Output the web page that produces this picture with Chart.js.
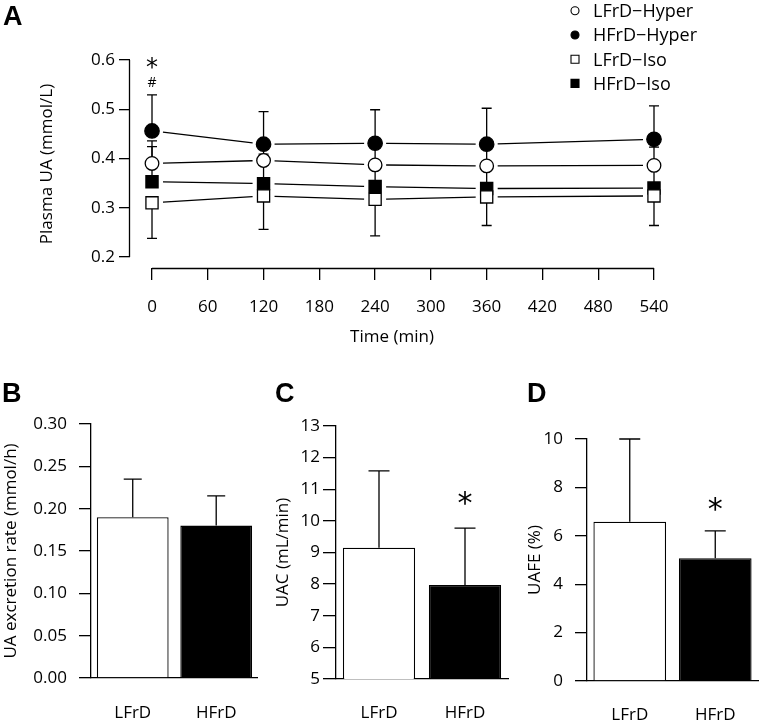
<!DOCTYPE html>
<html><head><meta charset="utf-8">
<script src="https://cdn.jsdelivr.net/npm/chart.js@4.4.1/dist/chart.umd.min.js"></script>
<style>
html,body{margin:0;padding:0;background:#fff;}
#wrap{position:relative;width:761px;height:725px;overflow:hidden;background:#fff;}
canvas{position:absolute;}
</style></head><body>
<div id="wrap">
<canvas id="cA" width="761" height="360" style="left:0px;top:0px"></canvas>
<canvas id="cB" width="262" height="380" style="left:0px;top:345px"></canvas>
<canvas id="cC" width="248" height="380" style="left:262px;top:345px"></canvas>
<canvas id="cD" width="251" height="380" style="left:510px;top:345px"></canvas>
</div>
<script>
// ---------- Panel A data ----------
const timePoints = [0, 120, 240, 360, 540];
const timeTicks = [0, 60, 120, 180, 240, 300, 360, 420, 480, 540];
const plasmaTicks = [0.2, 0.3, 0.4, 0.5, 0.6];
const seriesNames = ['LFrD\u2212Hyper', 'HFrD\u2212Hyper', 'LFrD\u2212Iso', 'HFrD\u2212Iso'];
const lfrdHyper = [0.390, 0.396, 0.387, 0.385, 0.386];
const hfrdHyper = [0.456, 0.429, 0.431, 0.429, 0.439];
const lfrdIso   = [0.310, 0.324, 0.317, 0.322, 0.324];
const hfrdIso   = [0.353, 0.349, 0.343, 0.339, 0.340];
// visible error bars (upper / lower extents)
const lfrdHyperUp = [0.046, 0.040, 0.045, 0.045, 0.037];
const hfrdHyperUp = [0.073, 0.066, 0.068, 0.073, 0.068];
const hfrdIsoUp   = [0.071, 0.060, 0.050, 0.050, 0.050];
const lfrdIsoDown = [0.072, 0.068, 0.074, 0.058, 0.060];

// ---------- Panels B-D data ----------
const groups = ['LFrD', 'HFrD'];
const excretionRate = [0.19, 0.18];
const excretionSD = [0.045, 0.035];
const excretionTicks = [0, 0.05, 0.10, 0.15, 0.20, 0.25, 0.30];
const uac = [9.15, 7.97];
const uacSD = [2.43, 1.80];
const uacTicks = [5, 6, 7, 8, 9, 10, 11, 12, 13];
const uafe = [6.58, 5.07];
const uafeSD = [3.42, 1.13];
const uafeTicks = [0, 2, 4, 6, 8, 10];

// ---------- common ----------
const FAM = "'Open Sans', sans-serif";
const f17 = {family: FAM, size: 17};
const LW = 1.3;
Chart.defaults.color = '#000';
Chart.defaults.font.family = FAM;

function valOf(d) { return (d !== null && typeof d === 'object') ? d.y : d; }

const errorBars = {
  id: 'errorBars',
  _draw(chart, opts) {
    const ctx = chart.ctx, ys = chart.scales.y;
    ctx.save();
    ctx.strokeStyle = '#000'; ctx.lineWidth = opts.lineWidth || LW;
    chart.data.datasets.forEach((ds, i) => {
      const meta = chart.getDatasetMeta(i);
      ['up', 'down'].forEach(dir => {
        const arr = opts[dir] && opts[dir][i];
        if (!arr) return;
        meta.data.forEach((el, k) => {
          if (arr[k] == null) return;
          const v = valOf(ds.data[k]);
          const end = ys.getPixelForValue(dir === 'up' ? v + arr[k] : v - arr[k]);
          const x = el.x, y0 = ys.getPixelForValue(v);
          ctx.beginPath();
          ctx.moveTo(x, y0); ctx.lineTo(x, end);
          ctx.moveTo(x - opts.cap / 2, end); ctx.lineTo(x + opts.cap / 2, end);
          ctx.stroke();
        });
      });
    });
    ctx.restore();
  },
  beforeDatasetsDraw(chart, args, opts) { if (opts && opts.when === 'before') this._draw(chart, opts); },
  afterDatasetsDraw(chart, args, opts) { if (opts && opts.when === 'after') this._draw(chart, opts); }
};

const gapLines = {
  id: 'gapLines',
  beforeDatasetsDraw(chart, args, opts) {
    if (!opts || !opts.gap) return;
    const ctx = chart.ctx;
    ctx.save(); ctx.strokeStyle = '#000'; ctx.lineWidth = LW;
    chart.data.datasets.forEach((ds, i) => {
      const pts = chart.getDatasetMeta(i).data;
      for (let k = 0; k < pts.length - 1; k++) {
        const a = pts[k], b = pts[k + 1];
        const dx = b.x - a.x, dy = b.y - a.y, L = Math.hypot(dx, dy);
        const ux = dx / L, uy = dy / L;
        ctx.beginPath();
        ctx.moveTo(a.x + ux * opts.gap, a.y + uy * opts.gap);
        ctx.lineTo(b.x - ux * opts.gap, b.y - uy * opts.gap);
        ctx.stroke();
      }
    });
    ctx.restore();
  }
};

const rangeFrame = {
  id: 'rangeFrame',
  afterDraw(chart, args, opts) {
    if (!opts || !opts.enabled) return;
    const {ctx, chartArea} = chart, xs = chart.scales.x, ys = chart.scales.y;
    ctx.save(); ctx.strokeStyle = '#000'; ctx.lineWidth = LW;
    ctx.beginPath();
    const xl = Math.round(chartArea.left) - 0.5;
    ctx.moveTo(xl, ys.getPixelForValue(opts.yFrom)); ctx.lineTo(xl, ys.getPixelForValue(opts.yTo));
    const yb = Math.round(chartArea.bottom) + 0.5;
    ctx.moveTo(xs.getPixelForValue(opts.xFrom), yb); ctx.lineTo(xs.getPixelForValue(opts.xTo), yb);
    ctx.stroke(); ctx.restore();
  }
};

const marks = {
  id: 'marks',
  afterDraw(chart, args, opts) {
    if (!opts || !opts.items) return;
    const ctx = chart.ctx, ys = chart.scales.y;
    ctx.save(); ctx.fillStyle = '#000'; ctx.textAlign = 'center'; ctx.textBaseline = 'alphabetic';
    opts.items.forEach(m => {
      const meta = chart.getDatasetMeta(m.ds);
      const el = meta.data[m.idx];
      const v = valOf(chart.data.datasets[m.ds].data[m.idx]);
      const top = ys.getPixelForValue(v + m.err[m.idx]);
      ctx.font = m.font;
      ctx.fillText(m.text, el.x, top - m.dy + m.base);
    });
    ctx.restore();
  }
};

const panelLabel = {
  id: 'panelLabel',
  afterDraw(chart, args, opts) {
    if (!opts || !opts.text) return;
    const ctx = chart.ctx;
    ctx.save(); ctx.fillStyle = '#000';
    ctx.font = "bold 27px 'Liberation Sans', Arial, sans-serif";
    ctx.textBaseline = 'alphabetic'; ctx.textAlign = 'left';
    ctx.fillText(opts.text, opts.x, opts.y);
    ctx.restore();
  }
};

const customLegend = {
  id: 'customLegend',
  afterDraw(chart, args, opts) {
    if (!opts || !opts.enabled) return;
    const ctx = chart.ctx;
    ctx.save();
    chart.data.datasets.forEach((ds, i) => {
      const cy = opts.y0 + i * opts.dy;
      ctx.fillStyle = ds.backgroundColor; ctx.strokeStyle = '#000'; ctx.lineWidth = 1.1;
      ctx.beginPath();
      if (ds.pointStyle === 'circle') ctx.arc(opts.mx, cy, 4, 0, Math.PI * 2);
      else ctx.rect(opts.mx - 4, cy - 4, 8, 8);
      ctx.fill(); ctx.stroke();
      ctx.fillStyle = '#000';
      ctx.font = "18px " + FAM;
      ctx.textBaseline = 'alphabetic'; ctx.textAlign = 'left';
      ctx.fillText(ds.label, opts.tx, cy + 6.4);
    });
    ctx.restore();
  }
};

const allPlugins = [errorBars, gapLines, rangeFrame, marks, panelLabel, customLegend];

// ---------- Chart A ----------
function pts(arr) { return timePoints.map((t, i) => ({x: t, y: arr[i]})); }
const seriesValues = [lfrdHyper, hfrdHyper, lfrdIso, hfrdIso];
const seriesStyle = [
  {pointStyle: 'circle', r: 6.8, bg: '#fff'},
  {pointStyle: 'circle', r: 7.2, bg: '#000'},
  {pointStyle: 'rect', r: 8.6, bg: '#fff'},
  {pointStyle: 'rect', r: 8.6, bg: '#000'}
];
new Chart(document.getElementById('cA'), {
  type: 'scatter',
  data: {datasets: seriesNames.map((n, i) => ({
    label: n, data: pts(seriesValues[i]), pointStyle: seriesStyle[i].pointStyle,
    pointRadius: seriesStyle[i].r, pointHoverRadius: seriesStyle[i].r,
    backgroundColor: seriesStyle[i].bg, borderColor: '#000', borderWidth: LW, clip: false
  }))},
  options: {
    responsive: false, animation: false, devicePixelRatio: 1, events: [],
    layout: {padding: {top: 60, right: 107, left: 0, bottom: 13}},
    plugins: {
      legend: {display: false}, tooltip: {enabled: false},
      errorBars: {when: 'before', cap: 10, up: [lfrdHyperUp, hfrdHyperUp, null, hfrdIsoUp], down: [null, null, lfrdIsoDown, null]},
      gapLines: {gap: 11},
      rangeFrame: {enabled: true, yFrom: 0.2, yTo: 0.6, xFrom: 0, xTo: 540},
      marks: {items: [
        {ds: 1, idx: 0, err: hfrdHyperUp, text: '*', font: "24px 'DejaVu Sans', sans-serif", dy: 32.5, base: 12.5},
        {ds: 1, idx: 0, err: hfrdHyperUp, text: '#', font: "14px " + FAM, dy: 12.5, base: 5}
      ]},
      panelLabel: {text: 'A', x: 3, y: 25},
      customLegend: {enabled: true, mx: 575, tx: 593, y0: 10.8, dy: 24.2}
    },
    scales: {
      x: {
        type: 'linear', min: -23.67, max: 540,
        afterBuildTicks: s => { s.ticks = timeTicks.map(v => ({value: v})); },
        grid: {drawOnChartArea: false, color: '#000', lineWidth: LW, tickLength: 12, tickWidth: LW},
        border: {display: false},
        ticks: {font: f17, color: '#000', padding: 17, maxRotation: 0, autoSkip: false},
        title: {display: true, text: 'Time (min)', font: f17, color: '#000', padding: {top: 0, bottom: 0}},
        afterFit: s => { s.height = 79; }
      },
      y: {
        type: 'linear', min: 0.1777, max: 0.6,
        afterBuildTicks: s => { s.ticks = plasmaTicks.map(v => ({value: v})); },
        grid: {drawOnChartArea: false, color: '#000', lineWidth: LW, tickLength: 11, tickWidth: LW},
        border: {display: false},
        ticks: {font: f17, color: '#000', padding: 4, callback: v => v.toFixed(1)},
        title: {display: true, text: 'Plasma UA (mmol/L)', font: f17, color: '#000', padding: {top: 36.8, bottom: 0}},
        afterFit: s => { s.width = 130; }
      }
    }
  },
  plugins: allPlugins
});

// ---------- Bar panels ----------
function barChart(id, cfg) {
  return new Chart(document.getElementById(id), {
    type: 'bar',
    data: {labels: groups, datasets: [{
      data: cfg.values, backgroundColor: ['#fff', '#000'], borderColor: '#000', borderWidth: LW,
      barPercentage: cfg.barPct, categoryPercentage: 1, borderSkipped: 'start'
    }]},
    options: {
      responsive: false, animation: false, devicePixelRatio: 1, events: [],
      layout: {padding: {top: cfg.top, right: cfg.right, left: 0, bottom: 0}},
      plugins: {
        legend: {display: false}, tooltip: {enabled: false},
        errorBars: {when: 'after', cap: cfg.cap, up: [cfg.sd]},
        marks: cfg.star ? {items: [{ds: 0, idx: 1, err: cfg.sd, text: '*', font: "30px 'DejaVu Sans', sans-serif", dy: cfg.starDy, base: 16}]} : {},
        panelLabel: {text: cfg.label, x: cfg.lx, y: 57}
      },
      scales: {
        x: {
          grid: {display: false, drawTicks: false},
          border: {display: true, color: '#000', width: LW},
          ticks: {font: f17, color: '#000', padding: cfg.xPad},
          afterFit: s => { s.height = cfg.xh; }
        },
        y: {
          type: 'linear', min: cfg.ticks[0], max: cfg.ticks[cfg.ticks.length - 1],
          afterBuildTicks: s => { s.ticks = cfg.ticks.map(v => ({value: v})); },
          grid: {drawOnChartArea: false, color: '#000', lineWidth: LW, tickLength: cfg.tl, tickWidth: LW},
          border: {display: true, color: '#000', width: LW},
          ticks: {font: f17, color: '#000', padding: cfg.yPad, callback: cfg.fmt},
          title: {display: true, text: cfg.title, font: f17, color: '#000', padding: {top: cfg.titlePad, bottom: 0}},
          afterFit: s => { s.width = cfg.yw; }
        }
      }
    },
    plugins: allPlugins
  });
}

barChart('cB', {values: excretionRate, sd: excretionSD, ticks: excretionTicks, fmt: v => v.toFixed(2),
  title: 'UA excretion rate (mmol/h)', label: 'B', lx: 2, top: 79, right: 2, xh: 47, yw: 91, tl: 12, yPad: 12,
  titlePad: 0.8, xPad: 25, cap: 18, barPct: 0.86, star: false});
barChart('cC', {values: uac, sd: uacSD, ticks: uacTicks, fmt: v => String(v),
  title: 'UAC (mL/min)', label: 'C', lx: 13, top: 81, right: 2, xh: 46, yw: 74, tl: 13, yPad: 3,
  titlePad: 10.8, xPad: 24, cap: 21, barPct: 0.84, star: true, starDy: 31});
barChart('cD', {values: uafe, sd: uafeSD, ticks: uafeTicks, fmt: v => String(v),
  title: 'UAFE (%)', label: 'D', lx: 17, top: 94, right: 3, xh: 44, yw: 77, tl: 12, yPad: 12,
  titlePad: 14.8, xPad: 24, cap: 21, barPct: 0.85, star: true, starDy: 28});
</script>
</body></html>
